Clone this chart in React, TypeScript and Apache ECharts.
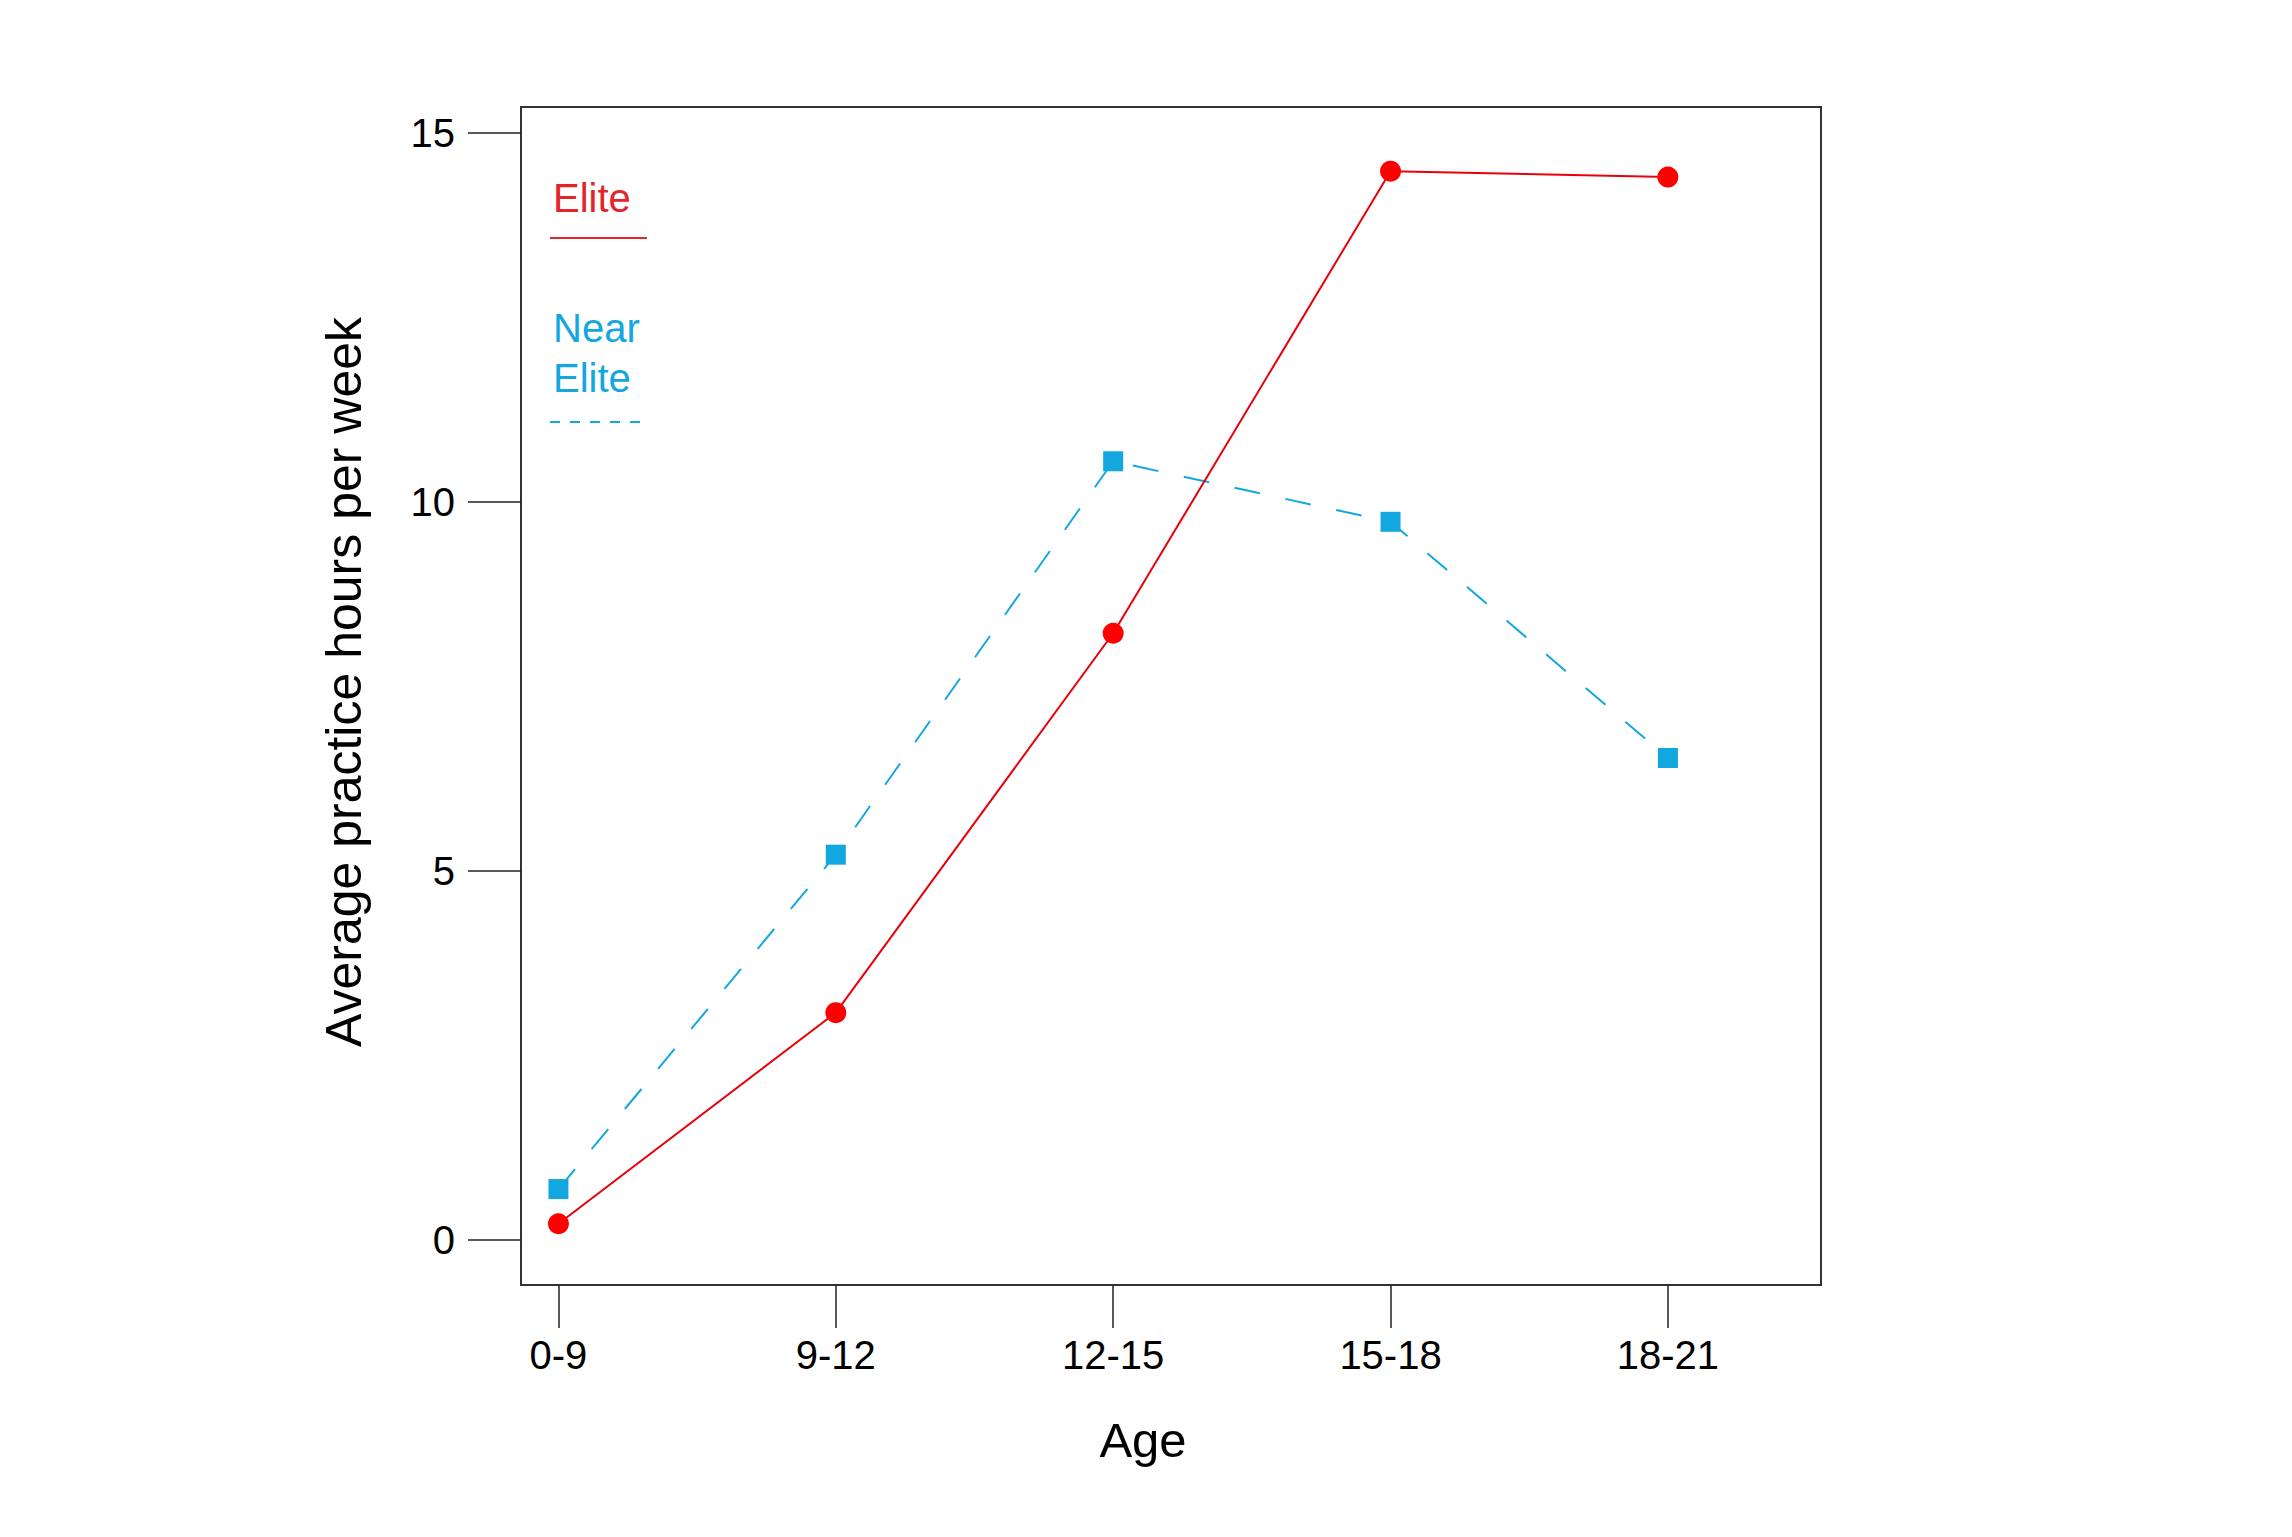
import React, { useEffect, useRef } from "react";
import * as echarts from "echarts";

const ageGroups = ["0-9", "9-12", "12-15", "15-18", "18-21"];
const eliteHours = [0.22, 3.08, 8.22, 14.48, 14.4];
const nearEliteHours = [0.69, 5.22, 10.55, 9.73, 6.53];
const yTicks = [0, 5, 10, 15];

const FONT = '"Liberation Sans", Arial, Helvetica, sans-serif';
const RED = "#ff0000";
const RED_LINE = "#e8000b";
const RED_TEXT = "#e3242b";
const BLUE = "#13a7df";

export default function App() {
  const ref = useRef<HTMLDivElement>(null);

  useEffect(() => {
    if (!ref.current) return;
    const chart = echarts.init(ref.current, null, { renderer: "svg" });
    const idx = ageGroups.map((_, i) => i);

    chart.setOption({
      animation: false,
      backgroundColor: "#ffffff",
      grid: {
        left: 521,
        top: 107,
        width: 1300,
        height: 1178,
        show: true,
        borderColor: "#333333",
        borderWidth: 2,
        backgroundColor: "transparent",
        containLabel: false,
        outerBoundsMode: "none",
      },
      xAxis: {
        type: "value",
        min: -0.135,
        max: 4.552,
        splitLine: { show: false },
        axisLine: { show: false, onZero: false },
        axisTick: {
          show: true,
          customValues: idx,
          length: 43,
          lineStyle: { color: "#222222", width: 1.5 },
        },
        axisLabel: {
          customValues: idx,
          formatter: (v: number) => ageGroups[Math.round(v)] ?? "",
          margin: 50,
          fontSize: 40,
          fontFamily: FONT,
          color: "#000000",
        },
      },
      yAxis: {
        type: "value",
        min: -0.61,
        max: 15.35,
        splitLine: { show: false },
        axisLine: { show: false, onZero: false },
        axisTick: {
          show: true,
          customValues: yTicks,
          length: 53,
          lineStyle: { color: "#222222", width: 1.5 },
        },
        axisLabel: {
          customValues: yTicks,
          margin: 66,
          fontSize: 40,
          fontFamily: FONT,
          color: "#000000",
        },
      },
      series: [
        {
          name: "Near Elite",
          type: "line",
          data: nearEliteHours.map((v, i) => [i, v]),
          symbol: "rect",
          symbolSize: 20,
          itemStyle: { color: BLUE },
          lineStyle: { color: BLUE, width: 2, type: [26, 26] },
          z: 2,
        },
        {
          name: "Elite",
          type: "line",
          data: eliteHours.map((v, i) => [i, v]),
          symbol: "circle",
          symbolSize: 21,
          itemStyle: { color: RED },
          lineStyle: { color: RED_LINE, width: 2 },
          z: 3,
        },
      ],
      graphic: [
        {
          type: "text",
          x: 553,
          y: 198,
          style: { text: "Elite", fontSize: 40, fontFamily: FONT, fill: RED_TEXT, align: "left", verticalAlign: "middle" },
        },
        {
          type: "line",
          shape: { x1: 550, y1: 238, x2: 647, y2: 238 },
          style: { stroke: RED_TEXT, lineWidth: 2 },
        },
        {
          type: "text",
          x: 553,
          y: 328,
          style: { text: "Near", fontSize: 40, fontFamily: FONT, fill: BLUE, align: "left", verticalAlign: "middle" },
        },
        {
          type: "text",
          x: 553,
          y: 378,
          style: { text: "Elite", fontSize: 40, fontFamily: FONT, fill: BLUE, align: "left", verticalAlign: "middle" },
        },
        {
          type: "line",
          shape: { x1: 550, y1: 422, x2: 647, y2: 422 },
          style: { stroke: BLUE, lineWidth: 2, lineDash: [10, 10] },
        },
        {
          type: "text",
          x: 1143,
          y: 1440,
          style: { text: "Age", fontSize: 49, fontFamily: FONT, fill: "#000000", align: "center", verticalAlign: "middle" },
        },
        {
          type: "text",
          x: 344,
          y: 682,
          rotation: Math.PI / 2,
          style: {
            text: "Average practice hours per week",
            fontSize: 50,
            fontFamily: FONT,
            fill: "#000000",
            align: "center",
            verticalAlign: "middle",
          },
        },
      ],
    });

    return () => chart.dispose();
  }, []);

  return (
    <div
      ref={ref}
      style={{ position: "fixed", left: 0, top: 0, width: 2292, height: 1537, background: "#fff" }}
    />
  );
}
